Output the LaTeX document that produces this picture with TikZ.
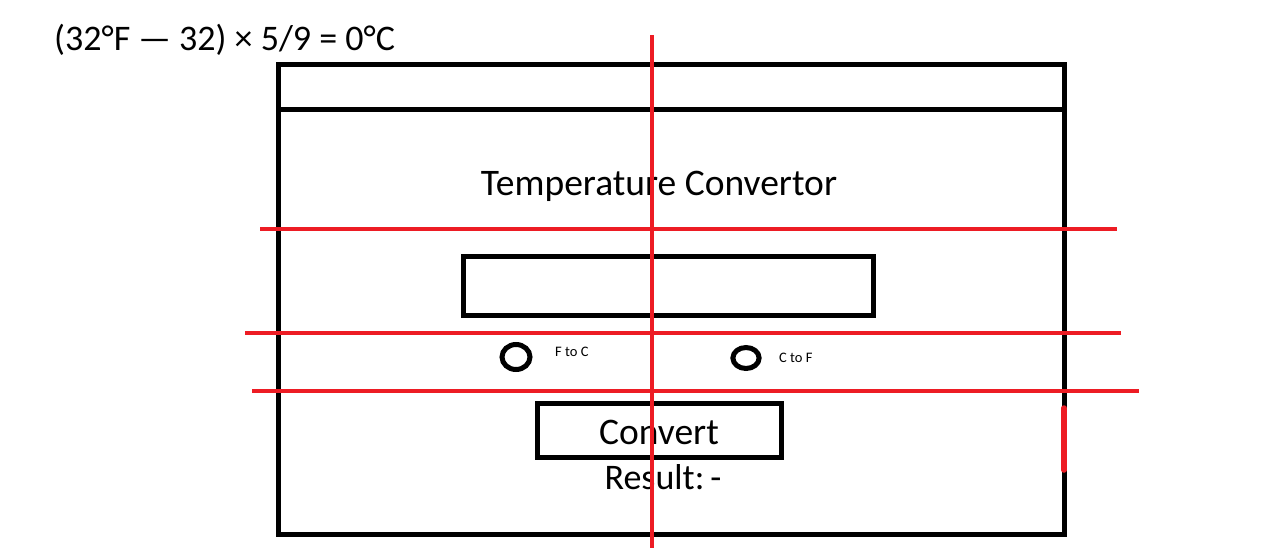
\documentclass[tikz,border=0pt]{standalone}
\usepackage{fontspec}
\setmainfont{Carlito}
\definecolor{redline}{HTML}{ED1C24}
\begin{document}
\begin{tikzpicture}[x=1pt,y=-1pt,
  blk/.style={draw=black,line width=5pt},
  rl/.style={draw=redline,line width=4pt},
  bigtxt/.style={font=\fontsize{37.5}{40}\selectfont,inner sep=0pt},
  smalltxt/.style={font=\fontsize{14.5}{16}\selectfont,inner sep=0pt}]
\useasboundingbox (0,0) rectangle (1269,552);
\fill[white] (0,0) rectangle (1269,552);
% formula
\node[inner sep=0pt,font=\fontsize{36}{40}\selectfont,anchor=west] (formula) at (54,40) {(32°F — 32) × 5/9 = 0°C};
% window
\draw[blk] (278,64) rectangle (1064,534);
\coordinate (barL) at (278,109);
\coordinate (barR) at (1064,109);
\draw[blk] (barL) -- (barR);
\node[bigtxt] (title) at (659,186) {Temperature Convertor};
\node[blk,draw,minimum width=410pt,minimum height=59pt,inner sep=0pt] (input) at (668,286) {};
\node[draw=black,line width=5pt,circle,minimum size=25pt,inner sep=0pt,xscale=1.12] (r1) at (516,357) {};
\node[draw=black,line width=5pt,circle,minimum size=21pt,inner sep=0pt,xscale=1.25] (r2) at (746,358) {};
\node[smalltxt,anchor=west] (l1) at (555,352) {F to C};
\node[smalltxt,anchor=west] (l2) at (779,358) {C to F};
\node[blk,draw,minimum width=244pt,minimum height=54pt,inner sep=0pt] (btn) at (659,430) {};
\node[bigtxt] (conv) at (659,432) {Convert};
\node[bigtxt,font=\fontsize{36}{40}\selectfont] (res) at (663,477) {Result:\,-};
% red guide lines
\coordinate (v1) at (652,35); \coordinate (v2) at (652,548);
\coordinate (h1a) at (260,229); \coordinate (h1b) at (1117,229);
\coordinate (h2a) at (245,333); \coordinate (h2b) at (1121,333);
\coordinate (h3a) at (252,391); \coordinate (h3b) at (1139,391);
\coordinate (s1) at (1064,408); \coordinate (s2) at (1064,470);
\draw[rl] (h1a) -- (h1b);
\draw[rl] (h2a) -- (h2b);
\draw[rl] (h3a) -- (h3b);
\draw[rl] (v1) -- (v2);
\draw[rl,line width=5.5pt,line cap=round] (s1) -- (s2);
\end{tikzpicture}
\end{document}
